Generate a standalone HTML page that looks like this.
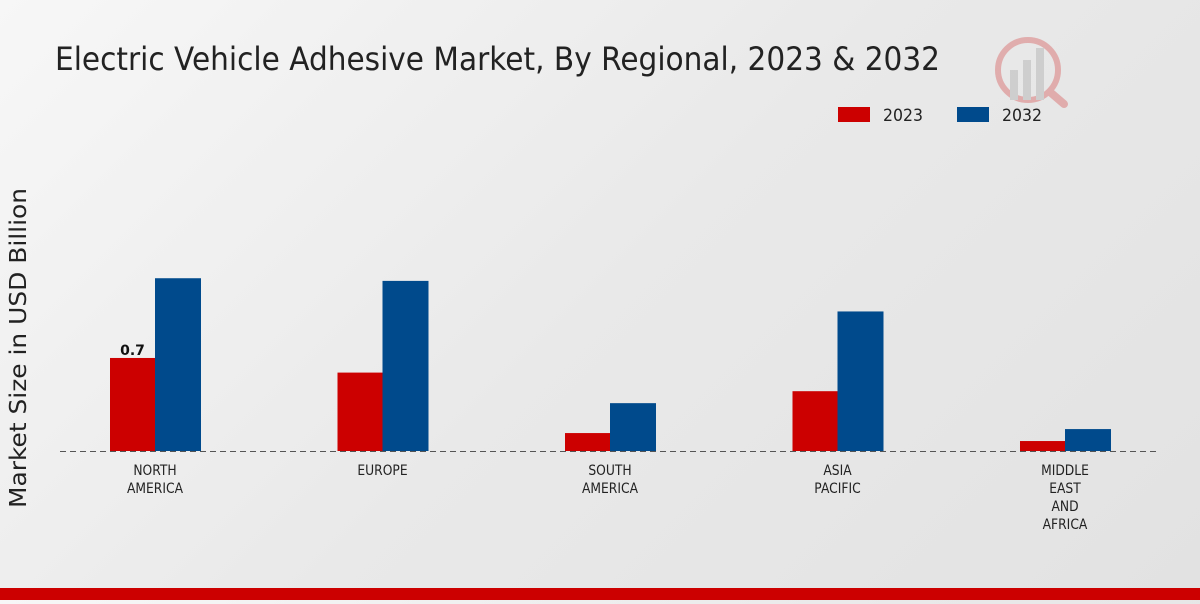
<!DOCTYPE html>
<html><head><meta charset="utf-8"><style>
html,body{margin:0;padding:0;}
body{width:1200px;height:600px;overflow:hidden;background:linear-gradient(135deg,#f7f7f7 0%,#e9e9e9 50%,#e2e2e2 100%);font-family:"DejaVu Sans","Liberation Sans",sans-serif;}
</style></head><body>
<svg width="1200" height="600" xmlns="http://www.w3.org/2000/svg">
<text x="55" y="70" font-size="32" fill="#222" textLength="885" lengthAdjust="spacingAndGlyphs">Electric Vehicle Adhesive Market, By Regional, 2023 &amp; 2032</text>
<g opacity="0.25">
<circle cx="1028" cy="70" r="30" fill="none" stroke="#c00" stroke-width="6"/>
<rect x="1010" y="70" width="8" height="30" fill="#888"/><rect x="1023" y="60" width="8" height="40" fill="#888"/><rect x="1036" y="48" width="8" height="52" fill="#888"/>
<line x1="1050" y1="92" x2="1064" y2="104" stroke="#c00" stroke-width="8" stroke-linecap="round"/>
</g>
<g>
<rect x="838" y="107" width="32" height="15" fill="#cc0000"/>
<text x="883" y="121" font-size="17" fill="#222" textLength="40" lengthAdjust="spacingAndGlyphs">2023</text>
<rect x="957" y="107" width="32" height="15" fill="#004a8c"/>
<text x="1002" y="121" font-size="17" fill="#222" textLength="40" lengthAdjust="spacingAndGlyphs">2032</text>
</g>
<text transform="translate(26,348) rotate(-90)" text-anchor="middle" font-size="23" fill="#222" textLength="320" lengthAdjust="spacingAndGlyphs">Market Size in USD Billion</text>
<g id="bars"></g>
<line x1="60" y1="451.5" x2="1160" y2="451.5" stroke="#555" stroke-dasharray="6,4"/>
<g id="labels"></g>
<rect x="0" y="588" width="1200" height="12" fill="#cc0000"/>
</svg>
<script>
const categories=[["NORTH","AMERICA"],["EUROPE"],["SOUTH","AMERICA"],["ASIA","PACIFIC"],["MIDDLE","EAST","AND","AFRICA"]];
const values2023=[0.7,0.59,0.135,0.45,0.075];
const values2032=[1.30,1.28,0.36,1.05,0.165];
const valueLabels2023=["0.7","","","",""];
const NS="http://www.w3.org/2000/svg";
const base=451,scale=132.9;
const xc=i=>155+i*227.5;
const y=v=>base-v*scale;
const bars=document.getElementById('bars'),labels=document.getElementById('labels');
function mk(t,a){const e=document.createElementNS(NS,t);for(const k in a)e.setAttribute(k,a[k]);return e;}
categories.forEach((c,i)=>{
  const r=mk('rect',{x:xc(i)-45,y:y(values2023[i]),width:45,height:values2023[i]*scale,fill:'#cc0000'});
  
  
  bars.appendChild(r);
  const b=mk('rect',{x:xc(i),y:y(values2032[i]),width:46,height:values2032[i]*scale,fill:'#004a8c'});
  
  
  bars.appendChild(b);
  if(valueLabels2023[i]){const t=mk('text',{x:xc(i)-22.5,y:y(values2023[i])-3,'text-anchor':'middle','font-size':14,'font-weight':'bold',fill:'#111'});t.textContent=valueLabels2023[i];
  
  
  labels.appendChild(t);}
  c.forEach((line,j)=>{const t=mk('text',{x:xc(i),y:475+j*18,'text-anchor':'middle','font-size':14,fill:'#222',transform:'translate('+xc(i)+',0) scale(0.88,1) translate('+(-xc(i))+',0)'});t.textContent=line;
  
  
  labels.appendChild(t);});
});
</script>
</body></html>
